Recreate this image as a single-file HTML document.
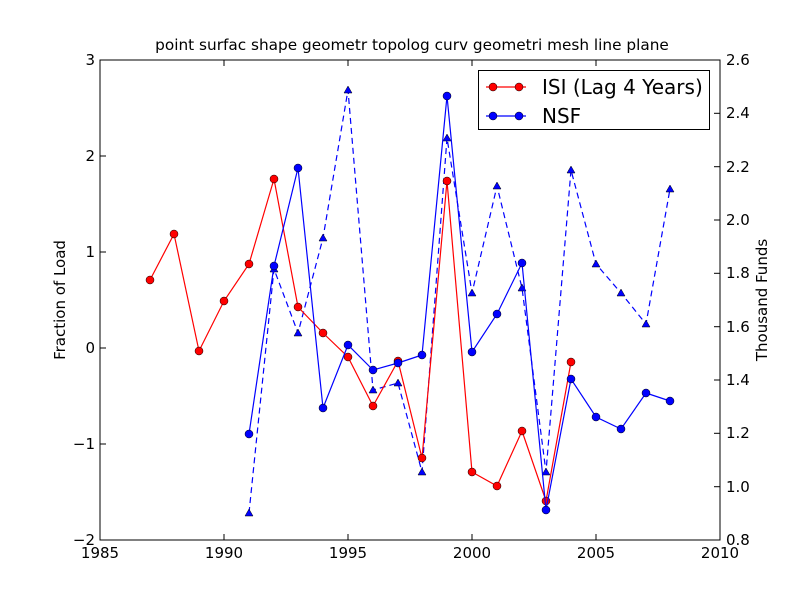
<!DOCTYPE html>
<html><head><meta charset="utf-8"><style>body{margin:0;background:#fff}svg{display:block}text{font-family:"DejaVu Sans","Liberation Sans",sans-serif}</style></head>
<body>
<svg width="800" height="600" viewBox="0 0 800 600" xmlns="http://www.w3.org/2000/svg">
<rect width="800" height="600" fill="#fff"/>
<text x="412" y="50" font-size="15.3" text-anchor="middle">point surfac shape geometr topolog curv geometri mesh line plane</text>
<g stroke="#000" stroke-width="1">
<line x1="100" y1="540" x2="100" y2="534"/><line x1="224" y1="540" x2="224" y2="534"/><line x1="348" y1="540" x2="348" y2="534"/><line x1="472" y1="540" x2="472" y2="534"/><line x1="596" y1="540" x2="596" y2="534"/><line x1="720" y1="540" x2="720" y2="534"/>
<line x1="100" y1="60" x2="100" y2="66"/><line x1="224" y1="60" x2="224" y2="66"/><line x1="348" y1="60" x2="348" y2="66"/><line x1="472" y1="60" x2="472" y2="66"/><line x1="596" y1="60" x2="596" y2="66"/><line x1="720" y1="60" x2="720" y2="66"/>
<line x1="100" y1="60" x2="106" y2="60"/><line x1="100" y1="156" x2="106" y2="156"/><line x1="100" y1="252" x2="106" y2="252"/><line x1="100" y1="348" x2="106" y2="348"/><line x1="100" y1="444" x2="106" y2="444"/><line x1="100" y1="540" x2="106" y2="540"/>
<line x1="720" y1="60" x2="714" y2="60"/><line x1="720" y1="113.3" x2="714" y2="113.3"/><line x1="720" y1="166.7" x2="714" y2="166.7"/><line x1="720" y1="220" x2="714" y2="220"/><line x1="720" y1="273.3" x2="714" y2="273.3"/><line x1="720" y1="326.7" x2="714" y2="326.7"/><line x1="720" y1="380" x2="714" y2="380"/><line x1="720" y1="433.3" x2="714" y2="433.3"/><line x1="720" y1="486.7" x2="714" y2="486.7"/><line x1="720" y1="540" x2="714" y2="540"/>
</g>
<g font-size="15" text-anchor="middle">
<text x="100" y="558">1985</text><text x="224" y="558">1990</text><text x="348" y="558">1995</text><text x="472" y="558">2000</text><text x="596" y="558">2005</text><text x="720" y="558">2010</text>
</g>
<g font-size="15" text-anchor="end">
<text x="95" y="65">3</text><text x="95" y="161">2</text><text x="95" y="257">1</text><text x="95" y="353">0</text><text x="95" y="449">−1</text><text x="95" y="545">−2</text>
</g>
<g font-size="15">
<text x="726" y="65">2.6</text><text x="726" y="118">2.4</text><text x="726" y="172">2.2</text><text x="726" y="225">2.0</text><text x="726" y="278">1.8</text><text x="726" y="332">1.6</text><text x="726" y="385">1.4</text><text x="726" y="438">1.2</text><text x="726" y="492">1.0</text><text x="726" y="545">0.8</text>
</g>
<text font-size="15" transform="translate(65,300) rotate(-90)" text-anchor="middle">Fraction of Load</text>
<text font-size="15" transform="translate(767,300) rotate(-90)" text-anchor="middle">Thousand Funds</text>
<polyline fill="none" stroke="#00f" stroke-width="1.2" stroke-dasharray="6,4" points="249,513 274,269 298,333 323,238 348,90 373,390 398,383 422,472 447,138 472,293 497,186 522,288 546,472 571,170 596,264 621,293 646,324 670,189"/>
<g fill="#00f" stroke="#000" stroke-width="0.5">
<path d="M249,509l4,7h-8z M274,265l4,7h-8z M298,329l4,7h-8z M323,234l4,7h-8z M348,86l4,7h-8z M373,386l4,7h-8z M398,379l4,7h-8z M422,468l4,7h-8z M447,134l4,7h-8z M472,289l4,7h-8z M497,182l4,7h-8z M522,284l4,7h-8z M546,468l4,7h-8z M571,166l4,7h-8z M596,260l4,7h-8z M621,289l4,7h-8z M646,320l4,7h-8z M670,185l4,7h-8z"/>
</g>
<polyline fill="none" stroke="#f00" stroke-width="1.2" points="150,280 174,234 199,351 224,301 249,264 274,179 298,307 323,333 348,357 373,406 398,361 422,458 447,181 472,472 497,486 522,431 546,501 571,362"/>
<g fill="#f00" stroke="#000" stroke-width="0.5">
<circle cx="150" cy="280" r="4"/><circle cx="174" cy="234" r="4"/><circle cx="199" cy="351" r="4"/><circle cx="224" cy="301" r="4"/><circle cx="249" cy="264" r="4"/><circle cx="274" cy="179" r="4"/><circle cx="298" cy="307" r="4"/><circle cx="323" cy="333" r="4"/><circle cx="348" cy="357" r="4"/><circle cx="373" cy="406" r="4"/><circle cx="398" cy="361" r="4"/><circle cx="422" cy="458" r="4"/><circle cx="447" cy="181" r="4"/><circle cx="472" cy="472" r="4"/><circle cx="497" cy="486" r="4"/><circle cx="522" cy="431" r="4"/><circle cx="546" cy="501" r="4"/><circle cx="571" cy="362" r="4"/>
</g>
<polyline fill="none" stroke="#00f" stroke-width="1.2" points="249,434 274,266 298,168 323,408 348,345 373,370 398,363 422,355 447,96 472,352 497,314 522,263 546,510 571,379 596,417 621,429 646,393 670,401"/>
<g fill="#00f" stroke="#000" stroke-width="0.5">
<circle cx="249" cy="434" r="4"/><circle cx="274" cy="266" r="4"/><circle cx="298" cy="168" r="4"/><circle cx="323" cy="408" r="4"/><circle cx="348" cy="345" r="4"/><circle cx="373" cy="370" r="4"/><circle cx="398" cy="363" r="4"/><circle cx="422" cy="355" r="4"/><circle cx="447" cy="96" r="4"/><circle cx="472" cy="352" r="4"/><circle cx="497" cy="314" r="4"/><circle cx="522" cy="263" r="4"/><circle cx="546" cy="510" r="4"/><circle cx="571" cy="379" r="4"/><circle cx="596" cy="417" r="4"/><circle cx="621" cy="429" r="4"/><circle cx="646" cy="393" r="4"/><circle cx="670" cy="401" r="4"/>
</g>
<rect x="100" y="60" width="620" height="480" fill="none" stroke="#000" stroke-width="1"/>
<rect x="478.5" y="70.5" width="231" height="59" fill="#fff" stroke="#000" stroke-width="1"/>
<line x1="486" y1="87" x2="526" y2="87" stroke="#f00" stroke-width="1.2"/>
<circle cx="493" cy="87" r="4" fill="#f00" stroke="#000" stroke-width="0.5"/><circle cx="519" cy="87" r="4" fill="#f00" stroke="#000" stroke-width="0.5"/>
<text x="542" y="94" font-size="20">ISI (Lag 4 Years)</text>
<line x1="486" y1="116" x2="526" y2="116" stroke="#00f" stroke-width="1.2"/>
<circle cx="493" cy="116" r="4" fill="#00f" stroke="#000" stroke-width="0.5"/><circle cx="519" cy="116" r="4" fill="#00f" stroke="#000" stroke-width="0.5"/>
<text x="542" y="123" font-size="20">NSF</text>
</svg>
</body></html>
